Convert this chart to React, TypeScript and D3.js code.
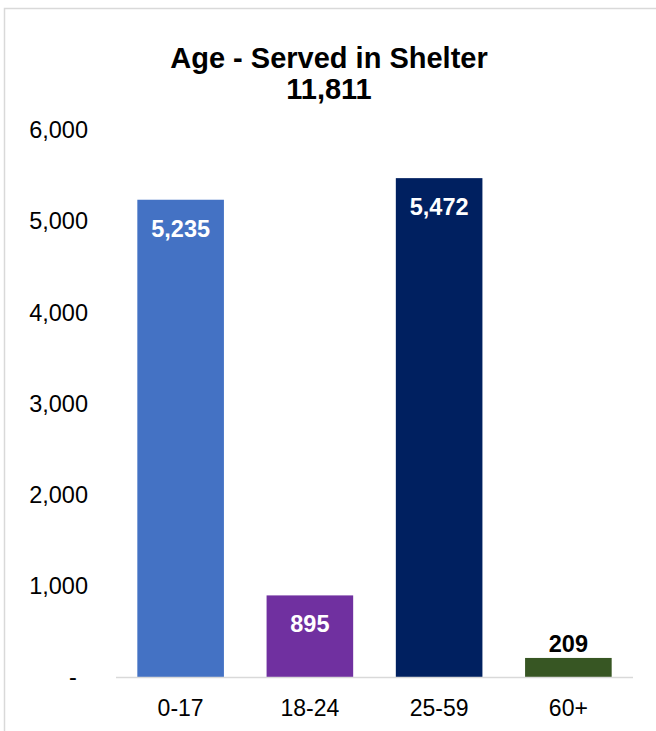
import React from "react";
import * as d3 from "d3";

const categories = ["0-17", "18-24", "25-59", "60+"];
const values = [5235, 895, 5472, 209];
const colors = ["#4472C4", "#7030A0", "#002060", "#375623"];
const yTicks = [0, 1000, 2000, 3000, 4000, 5000, 6000];
const titleLines = ["Age - Served in Shelter", "11,811"];

const W = 656;
const H = 731;
const font = "'Liberation Sans', Arial, sans-serif";

export default function App() {
  const x = d3.scaleBand<string>().domain(categories).range([116, 633]).paddingInner(0.33).paddingOuter(0.165);
  const y = d3.scaleLinear().domain([0, 6000]).range([677, 130]);
  const fmt = d3.format(",");
  return (
    <svg width={W} height={H} style={{ position: "absolute", left: 0, top: 0 }} fontFamily={font}>
      <rect x={0} y={0} width={W} height={H} fill="#fff" />
      <rect x={4.5} y={8.5} width={W + 20} height={H + 20} fill="none" stroke="#d9d9d9" strokeWidth={1.5} />
      {titleLines.map((t, i) => (
        <text key={i} x={329} y={68 + i * 31} textAnchor="middle" fontSize={29} fontWeight="bold" fill="#000">
          {t}
        </text>
      ))}
      {yTicks.map((t) => (
        <text key={t} x={t === 0 ? 73 : 88} y={y(t)} dy="0.35em" textAnchor={t === 0 ? "middle" : "end"} fontSize={23.5} fill="#000">
          {t === 0 ? "-" : fmt(t)}
        </text>
      ))}
      {categories.map((c, i) => {
        const bx = x(c)!;
        const bw = x.bandwidth();
        const top = y(values[i]);
        const inside = values[i] > 500;
        return (
          <g key={c}>
            <rect x={bx} y={top} width={bw} height={y(0) - top} fill={colors[i]} />
            <text
              x={bx + bw / 2}
              y={inside ? top + 37 : top - 6}
              textAnchor="middle"
              fontSize={23.5}
              fontWeight="bold"
              fill={inside ? "#fff" : "#000"}
            >
              {fmt(values[i])}
            </text>
            <text x={bx + bw / 2} y={708} dy="0.35em" textAnchor="middle" fontSize={23} fill="#000">
              {c}
            </text>
          </g>
        );
      })}
      <line x1={116} x2={633} y1={y(0) + 0.5} y2={y(0) + 0.5} stroke="#d9d9d9" strokeWidth={1.5} />
    </svg>
  );
}
